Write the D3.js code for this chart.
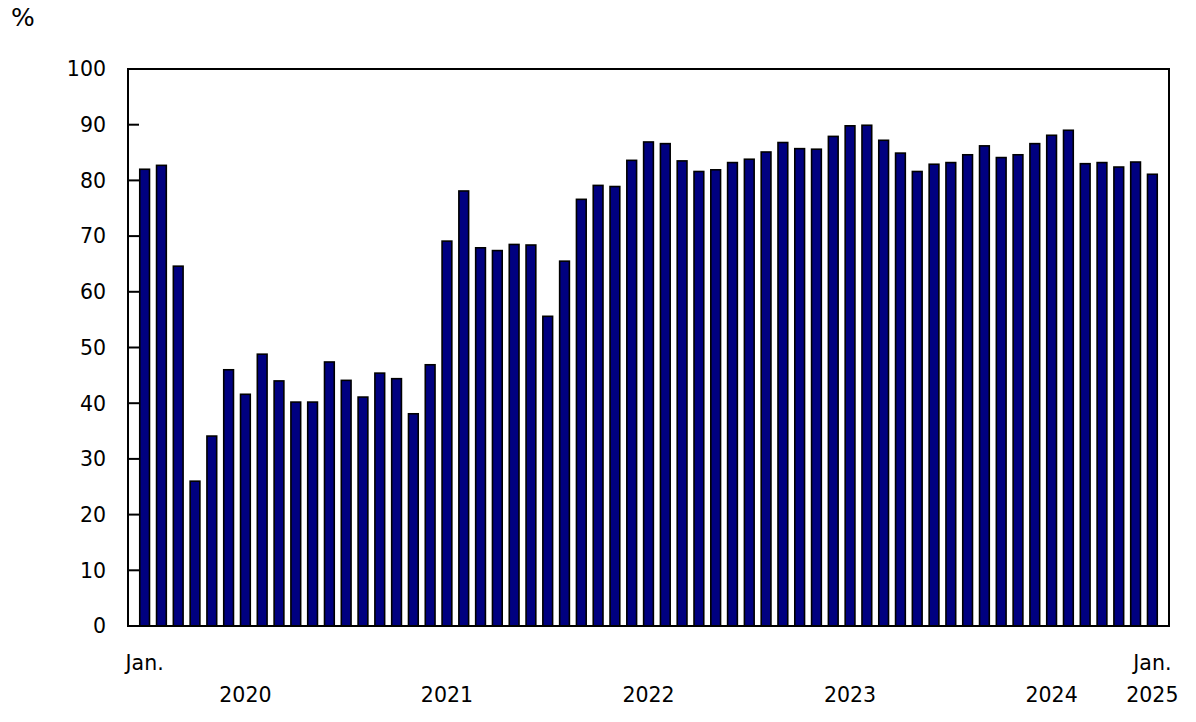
<!DOCTYPE html>
<html>
<head>
<meta charset="utf-8">
<script src="https://cdn.jsdelivr.net/npm/d3@7"></script>
<style>
  body { margin: 0; background: #fff; }
  text { font-family: "DejaVu Sans", Verdana, sans-serif; fill: #000; }
</style>
</head>
<body>
<svg id="chart" width="1196" height="722"></svg>
<script>
// monthly values, Jan. 2020 to Jan. 2025 (%)
const years = [2020, 2021, 2022, 2023, 2024, 2025];
const values = [
  82.0, 82.7, 64.6, 26.0, 34.1, 46.0, 41.6, 48.8, 44.0, 40.2, 40.2, 47.4,
  44.1, 41.1, 45.4, 44.4, 38.1, 46.9, 69.1, 78.1, 67.9, 67.4, 68.5, 68.4,
  55.6, 65.5, 76.6, 79.1, 78.9, 83.6, 86.9, 86.6, 83.5, 81.6, 81.9, 83.2,
  83.8, 85.1, 86.8, 85.7, 85.6, 87.9, 89.8, 89.9, 87.2, 84.9, 81.6, 82.9,
  83.2, 84.6, 86.2, 84.1, 84.6, 86.6, 88.1, 89.0, 83.0, 83.2, 82.4, 83.3,
  81.1
];
const yTicks = [0, 10, 20, 30, 40, 50, 60, 70, 80, 90, 100];

// one label per month: "2020-01" ...
const months = values.map((v, i) => {
  const yr = years[0] + Math.floor(i / 12);
  const m = (i % 12) + 1;
  return yr + "-" + String(m).padStart(2, "0");
});

const svg = d3.select("#chart");
const plotLeft = 128, plotRight = 1169, plotTop = 69, plotBottom = 626;
const fs = 20.5;

const x = d3.scaleBand()
  .domain(months)
  .range([plotLeft, plotRight])
  .paddingInner(0.42)
  .paddingOuter(0.7);

const y = d3.scaleLinear()
  .domain([0, 100])
  .range([plotBottom, plotTop]);

// bars
svg.append("g")
  .selectAll("rect")
  .data(values)
  .join("rect")
  .attr("x", (d, i) => x(months[i]))
  .attr("y", d => y(d))
  .attr("width", x.bandwidth())
  .attr("height", d => y(0) - y(d))
  .attr("fill", "#000080")
  .attr("stroke", "#000")
  .attr("stroke-width", 1.6);

// frame
svg.append("rect")
  .attr("x", plotLeft)
  .attr("y", plotTop)
  .attr("width", plotRight - plotLeft)
  .attr("height", plotBottom - plotTop)
  .attr("fill", "none")
  .attr("stroke", "#000")
  .attr("stroke-width", 2);

// y axis: inward ticks, labels on the left
const yAxis = svg.append("g");
yAxis.selectAll("line")
  .data(yTicks.filter(t => t > 0 && t < 100))
  .join("line")
  .attr("x1", plotLeft)
  .attr("x2", plotLeft + 11)
  .attr("y1", d => y(d))
  .attr("y2", d => y(d))
  .attr("stroke", "#000")
  .attr("stroke-width", 2);

yAxis.selectAll("text")
  .data(yTicks)
  .join("text")
  .attr("x", 106)
  .attr("y", d => y(d))
  .attr("dy", "0.36em")
  .attr("text-anchor", "end")
  .attr("font-size", fs)
  .text(d => d);

svg.append("text")
  .attr("x", 11)
  .attr("y", 26)
  .attr("font-size", 25)
  .text("%");

// x labels: "Jan." on first and last month, years under July (last year under Jan.)
const xc = m => x(m) + x.bandwidth() / 2;
svg.append("text")
  .attr("x", xc(months[0]))
  .attr("y", 670)
  .attr("text-anchor", "middle")
  .attr("font-size", fs)
  .text("Jan.");
svg.append("text")
  .attr("x", xc(months[months.length - 1]))
  .attr("y", 670)
  .attr("text-anchor", "middle")
  .attr("font-size", fs)
  .text("Jan.");

svg.append("g")
  .selectAll("text")
  .data(years)
  .join("text")
  .attr("x", d => d === 2025 ? xc("2025-01") : xc(d + "-07"))
  .attr("y", 702)
  .attr("text-anchor", "middle")
  .attr("font-size", fs)
  .text(d => d);
</script>
</body>
</html>
